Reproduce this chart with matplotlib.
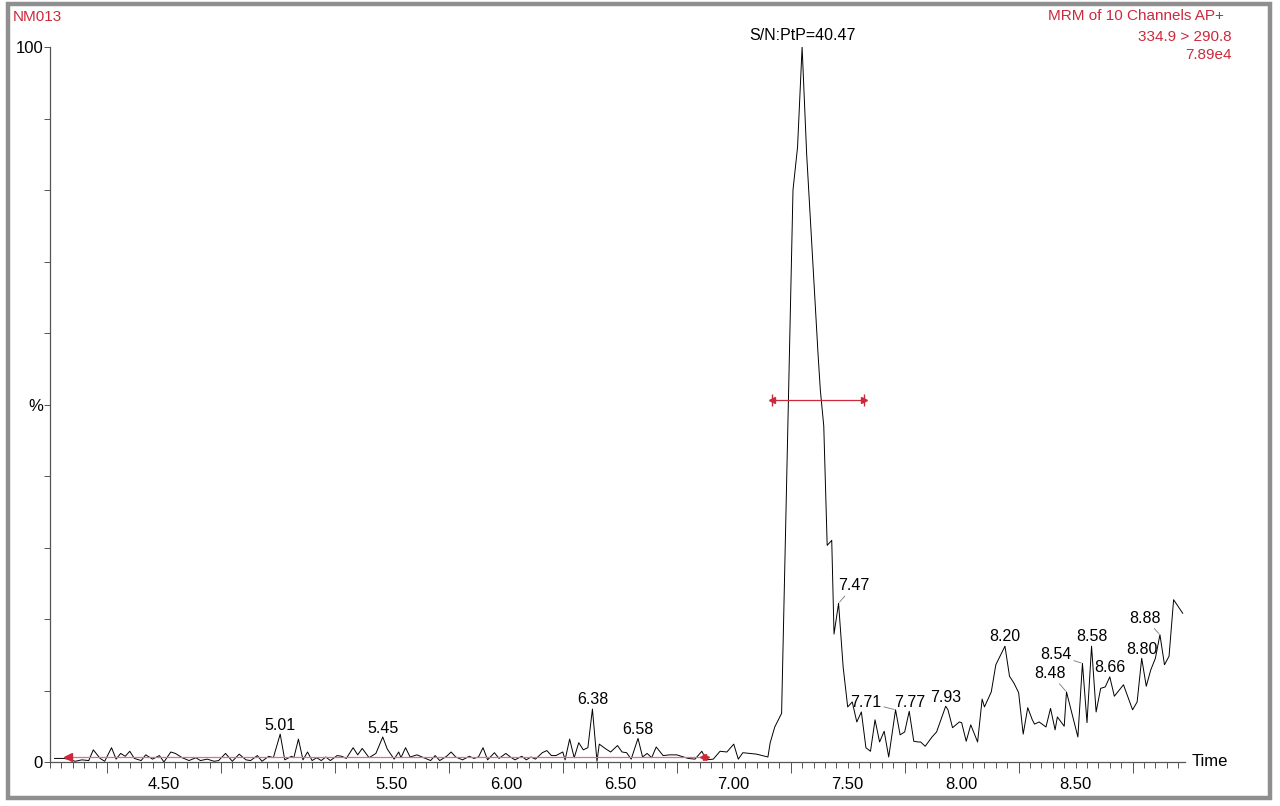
import numpy as np
import matplotlib.pyplot as plt
from matplotlib.patches import Rectangle
from matplotlib.ticker import MultipleLocator, FixedLocator, FuncFormatter

plt.rcParams['font.family'] = ['Liberation Sans', 'DejaVu Sans']

# Хроматограмма (время, мин / интенсивность, %)
time = [4.02, 4.06, 4.08, 4.11, 4.14, 4.17, 4.19, 4.22, 4.24, 4.27, 4.29, 4.31, 4.33, 4.35,
        4.37, 4.40, 4.42, 4.45, 4.48, 4.50, 4.53, 4.55, 4.58, 4.61, 4.64, 4.66, 4.69, 4.72,
        4.74, 4.77, 4.80, 4.83, 4.86, 4.88, 4.91, 4.93, 4.96, 4.98, 5.01, 5.03, 5.06, 5.07,
        5.09, 5.11, 5.13, 5.15, 5.17, 5.19, 5.21, 5.23, 5.26, 5.28, 5.30, 5.33, 5.35, 5.37,
        5.40, 5.43, 5.46, 5.48, 5.51, 5.53, 5.54, 5.56, 5.58, 5.61, 5.64, 5.67, 5.69, 5.71,
        5.74, 5.76, 5.78, 5.81, 5.84, 5.86, 5.88, 5.90, 5.92, 5.95, 5.97, 6.00, 6.02, 6.04,
        6.07, 6.09, 6.11, 6.13, 6.16, 6.18, 6.20, 6.22, 6.25, 6.26, 6.28, 6.30, 6.32, 6.34,
        6.36, 6.38, 6.40, 6.41, 6.44, 6.46, 6.49, 6.51, 6.53, 6.55, 6.58, 6.60, 6.62, 6.64,
        6.66, 6.69, 6.72, 6.75, 6.78, 6.80, 6.83, 6.86, 6.88, 6.91, 6.94, 6.97, 7.00, 7.02,
        7.04, 7.07, 7.10, 7.15, 7.16, 7.18, 7.21, 7.26, 7.28, 7.30, 7.32, 7.37, 7.38, 7.395,
        7.41, 7.43, 7.44, 7.46, 7.48, 7.50, 7.52, 7.53, 7.54, 7.56, 7.58, 7.60, 7.62, 7.64,
        7.66, 7.68, 7.71, 7.73, 7.75, 7.77, 7.79, 7.81, 7.82, 7.84, 7.87, 7.89, 7.93, 7.94,
        7.96, 7.99, 8.00, 8.02, 8.04, 8.07, 8.09, 8.10, 8.13, 8.15, 8.19, 8.21, 8.23, 8.25,
        8.27, 8.29, 8.31, 8.32, 8.34, 8.37, 8.39, 8.41, 8.42, 8.45, 8.46, 8.48, 8.51, 8.53,
        8.55, 8.57, 8.59, 8.61, 8.63, 8.65, 8.67, 8.71, 8.75, 8.77, 8.79, 8.81, 8.83, 8.85,
        8.87, 8.89, 8.91, 8.93, 8.97]
intensity = [0.5, 0.5, 0.4, 0.1, 0.3, 0.2, 1.7, 0.5, 0.1, 2.0, 0.4, 1.2, 0.8, 1.5,
             0.5, 0.2, 1.0, 0.4, 0.9, 0.0, 1.4, 1.2, 0.6, 0.2, 0.6, 0.2, 0.4, 0.1,
             0.2, 1.2, 0.1, 1.1, 0.3, 0.2, 0.9, 0.1, 0.8, 0.6, 3.9, 0.3, 0.8, 0.6,
             3.2, 0.3, 1.4, 0.2, 0.6, 0.2, 0.7, 0.2, 0.9, 0.8, 0.5, 2.0, 1.0, 1.9,
             0.6, 1.2, 3.5, 1.8, 0.4, 1.4, 0.6, 2.0, 0.7, 1.0, 0.6, 0.2, 0.9, 0.2,
             0.8, 1.4, 0.7, 0.3, 0.8, 0.5, 0.7, 2.0, 0.3, 1.3, 0.5, 1.2, 0.7, 0.3,
             0.8, 0.3, 0.7, 0.4, 1.3, 1.6, 0.9, 0.9, 1.4, 0.3, 3.2, 0.6, 2.7, 1.7,
             2.0, 7.4, 0.1, 2.5, 1.8, 1.4, 2.3, 1.4, 1.3, 0.4, 3.3, 0.7, 1.2, 0.6,
             2.1, 0.9, 1.0, 1.0, 0.7, 0.5, 0.4, 1.5, 0.3, 0.4, 1.5, 1.4, 2.5, 0.4,
             1.3, 1.2, 1.1, 0.7, 2.7, 4.9, 6.8, 80.0, 86.0, 100.0, 85.0, 57.0, 52.0, 47.0,
             30.3, 31.0, 17.9, 22.2, 13.3, 7.7, 8.4, 7.0, 5.6, 7.0, 2.0, 1.5, 5.9, 2.8,
             4.3, 0.7, 7.3, 3.8, 4.2, 7.1, 2.9, 2.8, 2.8, 2.2, 3.5, 4.2, 7.8, 7.3,
             4.8, 5.6, 5.5, 2.9, 5.2, 2.8, 8.8, 7.7, 9.8, 13.6, 16.2, 12.0, 11.0, 9.7,
             3.9, 7.6, 5.9, 5.3, 5.6, 4.9, 7.5, 4.5, 6.3, 5.0, 9.8, 7.3, 3.5, 13.8,
             5.5, 16.2, 7.0, 10.3, 10.5, 11.9, 9.2, 10.8, 7.3, 8.4, 14.5, 10.6, 12.9, 14.5,
             17.8, 13.6, 14.8, 22.7, 20.8]

# Подписи пиков
peak_labels = ['5.01', '5.45', '6.38', '6.58', '7.47', '7.71', '7.77', '7.93', '8.20',
               '8.48', '8.54', '8.58', '8.66', '8.80', '8.88']
peak_times = [5.01, 5.46, 6.38, 6.58, 7.46, 7.71, 7.77, 7.93, 8.19,
              8.46, 8.53, 8.57, 8.65, 8.79, 8.87]
# смещения подписи, пиксели (dx, dy), и нужна ли выноска
label_offsets = [(0, 1), (0, 1), (0, 2), (0, 1), (15, 10), (-30, 0), (0, 1), (0, 1), (0, 2),
                 (-16, 11), (-27, 1), (0, 2), (0, 2), (0, 1), (-15, 9)]
leaders = [False, False, False, False, True, True, False, False, False,
           True, True, False, False, False, True]

apex_time = 7.30
apex_text = 'S/N:PtP=40.47'
fwhm_start, fwhm_end, fwhm_level = 7.17, 7.57, 50.6
noise_start, noise_end, noise_level = 4.08, 6.88, 0.7

red = '#cc2a3c'

fig = plt.figure(figsize=(12.8, 8.06), dpi=100)
fig.patches.append(Rectangle((8/1280, 1 - 798/806), 1262/1280, 794/806, transform=fig.transFigure,
                             fill=False, edgecolor='#8f8f8f', linewidth=3.2))

ax = fig.add_axes([50/1280, 1 - 762/806, 1135/1280, 715/806])
ax.plot(time, intensity, color='black', linewidth=0.7)

ax.set_xlim(4.0, 8.98)
ax.set_ylim(0, 100)
for s in ['top', 'right']:
    ax.spines[s].set_visible(False)
for s in ['left', 'bottom']:
    ax.spines[s].set_color('#555555')
    ax.spines[s].set_linewidth(0.9)

ax.xaxis.set_minor_locator(MultipleLocator(0.05))
ax.xaxis.set_major_formatter(FuncFormatter(lambda v, p: f'{v:.2f}'))
ax.tick_params(axis='x', which='both', direction='out', length=4, width=0.7, color='#555555',
               labelsize=12, pad=7)
ax.set_xticks([4.5, 5.0, 5.5, 6.0, 6.5, 7.0, 7.5, 8.0, 8.5])
quarter = ax.secondary_xaxis('bottom')
quarter.xaxis.set_major_locator(FixedLocator([4.25, 4.75, 5.25, 5.75, 6.25, 6.75, 7.25, 7.75, 8.25, 8.75]))
quarter.tick_params(length=8, width=0.7, color='#555555', labelbottom=False)
quarter.spines['bottom'].set_visible(False)

ax.yaxis.set_major_locator(MultipleLocator(10))
ax.yaxis.set_major_formatter(FuncFormatter(lambda v, p: {0: '0', 50: '%', 100: '100'}.get(int(round(v)), '')))
ax.tick_params(axis='y', direction='out', length=4, width=0.7, color='#555555', labelsize=12, pad=1)

ax.text(1.006, 0, 'Time', transform=ax.transAxes, ha='left', va='center', fontsize=12)

# Подписи пиков
for lab, t, (dx, dy), ld in zip(peak_labels, peak_times, label_offsets, leaders):
    v = np.interp(t, time, intensity)
    ax.annotate(lab, (t, v), xytext=(dx*0.72, dy*0.72), textcoords='offset points',
                ha='center', va='bottom', fontsize=11.5,
                arrowprops=dict(arrowstyle='-', color='#777777', lw=0.6, shrinkA=0, shrinkB=1) if ld else None)

ax.annotate(apex_text, (apex_time, 100), xytext=(0, 3), textcoords='offset points',
            ha='center', va='bottom', fontsize=11.5, annotation_clip=False)

# Ширина пика и уровень шума
ax.plot([fwhm_start, fwhm_end], [fwhm_level, fwhm_level], color=red, linewidth=0.9)
ax.plot([fwhm_start], [fwhm_level], marker='<', color=red, markersize=4)
ax.plot([fwhm_end], [fwhm_level], marker='>', color=red, markersize=4)
ax.plot([fwhm_start, fwhm_end], [fwhm_level, fwhm_level], ls='none', marker='|', color=red, markersize=8, mew=1)

ax.plot([noise_start, noise_end], [noise_level, noise_level], color='#e07080', linewidth=0.9)
ax.plot([noise_start], [noise_level], marker='<', color=red, markersize=6)
ax.plot([noise_end], [noise_level], marker='>', color=red, markersize=5)
ax.plot([noise_end - 0.015], [noise_level], marker='<', color=red, markersize=5)

fig.text(13/1280, 1 - 17/806, 'NM013', color=red, fontsize=11, ha='left', va='center')
fig.text(1224/1280, 1 - 16/806, 'MRM of 10 Channels AP+', color=red, fontsize=11, ha='right', va='center')
fig.text(1232/1280, 1 - 37/806, '334.9 > 290.8', color=red, fontsize=11, ha='right', va='center')
fig.text(1232/1280, 1 - 55/806, '7.89e4', color=red, fontsize=11, ha='right', va='center')

fig.savefig('out.png', dpi=100)
